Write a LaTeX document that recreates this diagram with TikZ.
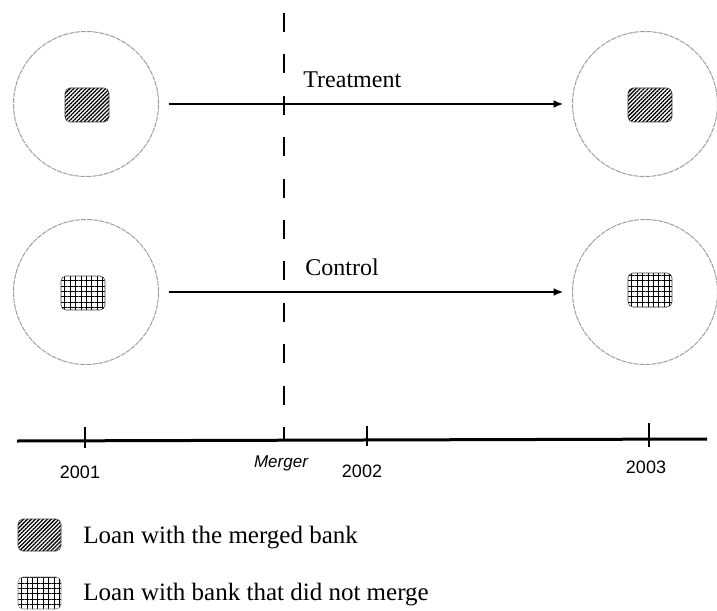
\documentclass[tikz,border=0pt]{standalone}
\usepackage{fontspec}
\setmainfont{Liberation Serif}
\setsansfont{Liberation Sans}
\usetikzlibrary{arrows.meta,patterns.meta}
\begin{document}
\begin{tikzpicture}[x=0.5pt,y=-0.5pt,
  ring/.style={circle,draw=black!38,line width=0.5pt,dash pattern=on 2.5pt off 0.5pt,minimum size=72.5pt,inner sep=0pt},
  boxbase/.style={rectangle,rounded corners=2.5pt,minimum width=22pt,minimum height=17pt,inner sep=0pt,draw=black!75,line width=0.3pt},
  hatchbox/.style={boxbase,pattern={Lines[angle=45,distance=1.4pt,line width=0.65pt]}},
  gridbox/.style={boxbase,pattern={Hatch[angle=0,distance=2.7pt,line width=0.45pt]}},
  flow/.style={line width=1pt,-{Latex[length=5pt,width=4pt]}},
  lbl/.style={font=\fontsize{12}{14}\selectfont,inner sep=0pt,anchor=base west},
  leg/.style={font=\fontsize{12.5}{15}\selectfont,inner sep=0pt,anchor=base west},
  year/.style={font=\sffamily\fontsize{9}{10}\selectfont,inner sep=0pt,anchor=base},
  tickmark/.style={line width=0.75pt}
]
\useasboundingbox (0,0) rectangle (717,610);

% circles
\node[ring] (c1) at (86,104) {};
\node[ring] (c2) at (645,104) {};
\node[ring] (c3) at (86,292) {};
\node[ring] (c4) at (645,292) {};

% loan boxes
\node[hatchbox] (b1) at (87,105) {};
\node[hatchbox] (b2) at (650,105) {};
\node[gridbox] (b3) at (83,293) {};
\node[gridbox] (b4) at (650,290) {};

% merger dashed line
\coordinate (mtop) at (284,13);
\coordinate (mbot) at (284,440);
\draw[line width=0.75pt,dash pattern=on 9.5pt off 11.2pt] (mtop) -- (mbot);

% arrows
\draw[flow,shorten <=4.75pt,shorten >=4.25pt] (c1) -- (c2);
\draw[flow,shorten <=4.75pt,shorten >=4.25pt] (c3) -- (c4);
\node[lbl] (treat) at (303,88) {Treatment};
\node[lbl] (ctrl) at (305,275) {Control};

% timeline
\coordinate (t0) at (17,441);
\coordinate (t1) at (707,439);
\draw[line width=1.5pt] (t0) -- (t1);
\coordinate (y1a) at (85,427); \coordinate (y1b) at (85,448);
\coordinate (y2a) at (367,426); \coordinate (y2b) at (367,446);
\coordinate (y3a) at (649,423); \coordinate (y3b) at (649,447);
\draw[tickmark] (y1a) -- (y1b);
\draw[tickmark] (y2a) -- (y2b);
\draw[tickmark] (y3a) -- (y3b);
\node[year] (l2001) at (80,478) {2001};
\node[year,font=\sffamily\itshape\fontsize{8.5}{10}\selectfont] (lmerger) at (281,467) {Merger};
\node[year] (l2002) at (362,477) {2002};
\node[year] (l2003) at (646,473) {2003};

% legend
\node[hatchbox,minimum width=21.5pt,minimum height=16pt] (k1) at (39.5,535) {};
\node[gridbox,minimum width=21.5pt,minimum height=16pt,draw=black!50] (k2) at (39.5,593) {};
\node[leg] (t1txt) at (83,543) {Loan with the merged bank};
\node[leg] (t2txt) at (83,600) {Loan with bank that did not merge};
\end{tikzpicture}
\end{document}
